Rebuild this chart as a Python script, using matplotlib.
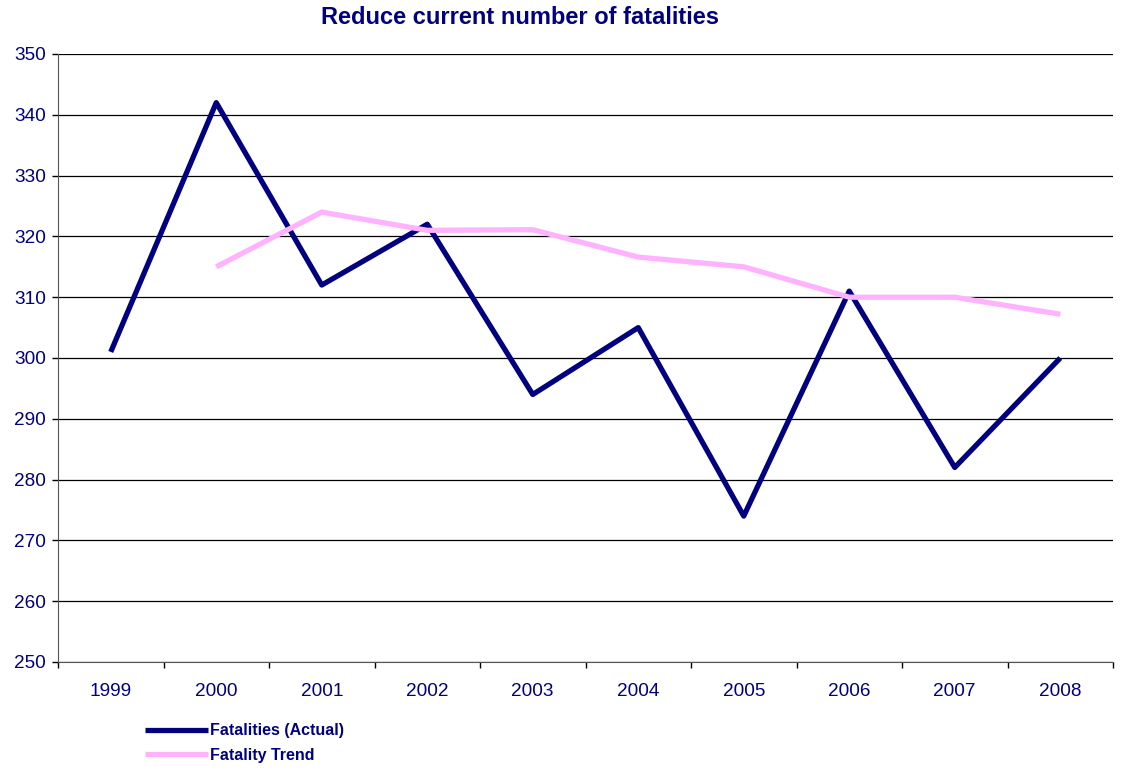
import matplotlib.pyplot as plt

plt.rcParams['font.family'] = ['Liberation Sans', 'DejaVu Sans']

years = ["1999", "2000", "2001", "2002", "2003", "2004", "2005", "2006", "2007", "2008"]
actual = [301, 342, 312, 322, 294, 305, 274, 311, 282, 300]
trend_years = ["2000", "2001", "2002", "2003", "2004", "2005", "2006", "2007", "2008"]
trend = [315, 324, 321, 321.1, 316.6, 315, 310, 310, 307.2]

navy = "#000080"
pink = "#FFB3FF"

fig = plt.figure(figsize=(11.23, 7.70), dpi=100)
ax = fig.add_axes([58/1123, 108/770, 1055/1123, 608/770])

x = list(range(len(years)))
tx = [years.index(y) for y in trend_years]
ax.plot(x, actual, color=navy, lw=3.8, solid_capstyle="butt", label="Fatalities (Actual)", zorder=3)
ax.plot(tx, trend, color=pink, lw=3.8, solid_capstyle="butt", label="Fatality Trend", zorder=4)

ax.set_xlim(-0.5, len(years) - 0.5)
ax.set_ylim(250, 350)
ax.set_yticks(range(250, 351, 10))
ax.set_xticks(x)
ax.set_xticklabels(years)
ax.set_xticks([i - 0.5 for i in range(len(years) + 1)], minor=True)
ax.tick_params(axis="x", which="major", length=0, pad=15, labelsize=13.7, labelcolor=navy)
ax.tick_params(axis="x", which="minor", length=4.5, width=1, color="black")
ax.tick_params(axis="y", length=4.5, width=1, labelsize=13.7, labelcolor=navy, pad=4)
ax.grid(axis="y", color="black", lw=0.9)
ax.set_axisbelow(True)
for s in ["top", "right"]:
    ax.spines[s].set_visible(False)
ax.spines["left"].set_color("#555555")
ax.spines["bottom"].set_color("#555555")

fig.text(520/1123, 1 - 17/770, "Reduce current number of fatalities", ha="center", va="center",
         fontsize=17, fontweight="bold", color=navy)

leg = fig.legend(loc="upper left", bbox_to_anchor=(131/1123, 1 - 709/770), frameon=False,
                 handlelength=3.9, handletextpad=0.15, labelspacing=0.6,
                 prop={"weight": "bold", "size": 11.5})
for t in leg.get_texts():
    t.set_color(navy)

plt.savefig("out.png", dpi=100)
